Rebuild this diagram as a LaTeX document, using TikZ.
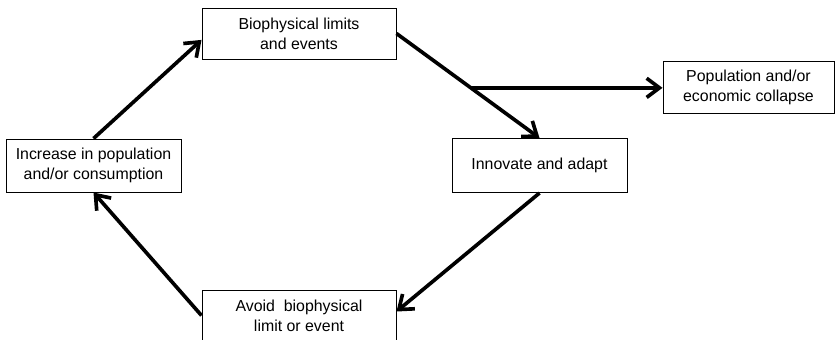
\documentclass[tikz,border=0pt]{standalone}
\usepackage{fontspec}
\setmainfont{Liberation Sans}
\usepackage{tikz}
\usetikzlibrary{arrows.meta}
\tikzstyle{box} = [rectangle, 
draw=black, 
line width=0.7pt,
align=center, 
font=\fontsize{11.3}{14.2}\selectfont,
inner sep=0pt]
\tikzstyle{arrow} = [line width=2.6pt,->,>={Straight Barb[length=3.2mm,width=4.8mm]}]

\begin{document}
\begin{tikzpicture}[node distance=3.3cm]
\useasboundingbox (0,0) rectangle (20.925,-8.475);

\node (limits) [box, minimum width=4.85cm, minimum height=1.275cm] at (7.475,-0.8375) {Biophysical limits\\and events};

\node (grow) [box, minimum width=4.375cm, minimum height=1.325cm, below of=limits, xshift=-5.1375cm] {Increase in population\\and/or consumption};

\node (adapt) [box, minimum width=4.375cm, minimum height=1.35cm, below of=limits, xshift=6.0125cm] {Innovate and adapt};

\node (avoid) [box, minimum width=4.85cm, minimum height=1.275cm, below of=grow, xshift=5.1375cm, yshift=-0.45cm] {Avoid~ biophysical\\limit or event};

\node (collapse) [box, minimum width=4.275cm, minimum height=1.3cm, right of=adapt, xshift=1.925cm, yshift=1.95cm] {Population and/or\\economic collapse};

\draw [arrow] (grow.north) -- ([yshift=-1.6mm]limits.west);
\draw [arrow] (limits.east) -- node[coordinate, pos=0.52] (split) {} (adapt.north);
\draw [arrow] (split) -- (split -| collapse.west);
\draw [arrow] (adapt.south) -- ([yshift=1mm]avoid.east);
\draw [arrow] (avoid.west) -- (grow.south);

\end{tikzpicture}
\end{document}
